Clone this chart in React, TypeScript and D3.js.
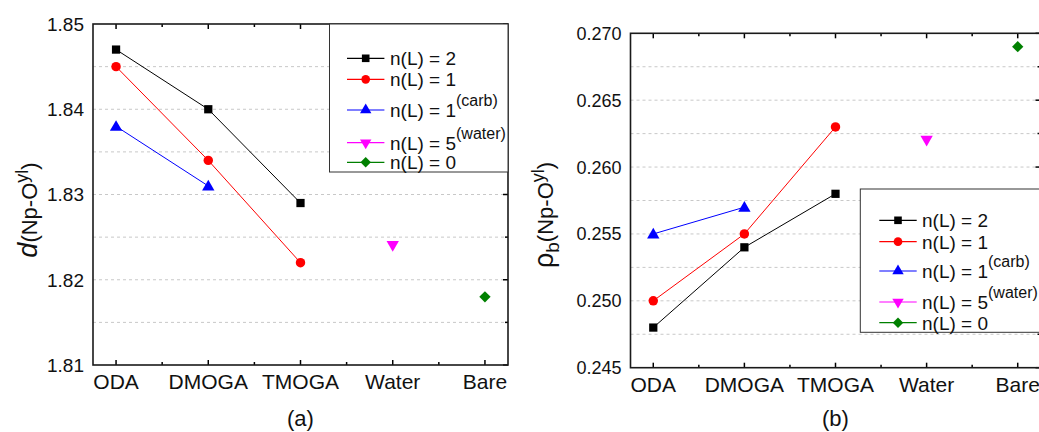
import React, { useRef, useEffect } from 'react';
import { select, scalePoint, scaleLinear, range, symbol, symbolSquare, symbolCircle, symbolTriangle } from 'd3';

const width = 1039;
const height = 432;

const categories = ['ODA', 'DMOGA', 'TMOGA', 'Water', 'Bare'];

// panel (a): d(Np-Oyl)
const distN2 = [1.847, 1.840, 1.829];
const distN1 = [1.845, 1.834, 1.822];
const distCarb = [1.838, 1.831];
const distWater = [1.824];
const distBare = [1.818];
const distTicks = [1.81, 1.82, 1.83, 1.84, 1.85];

// panel (b): rho_b(Np-Oyl)
const rhoN2 = [0.248, 0.254, 0.258];
const rhoN1 = [0.250, 0.255, 0.263];
const rhoCarb = [0.255, 0.257];
const rhoWater = [0.262];
const rhoBare = [0.269];
const rhoTicks = [0.245, 0.250, 0.255, 0.260, 0.265, 0.270];

const seriesStyle = [
    { label: 'n(L) = 2', sup: '', color: '#000000', shape: symbolSquare, size: 68, rotate: 0, start: 'ODA' },
    { label: 'n(L) = 1', sup: '', color: '#ff0000', shape: symbolCircle, size: 70, rotate: 0, start: 'ODA' },
    { label: 'n(L) = 1', sup: '(carb)', color: '#0000ff', shape: symbolTriangle, size: 66, rotate: 0, start: 'ODA' },
    { label: 'n(L) = 5', sup: '(water)', color: '#ff00ff', shape: symbolTriangle, size: 66, rotate: 180, start: 'Water' },
    { label: 'n(L) = 0', sup: '', color: '#008000', shape: symbolSquare, size: 64, rotate: 45, start: 'Bare' },
];

const panels = [
    {
        id: 'a', series: [distN2, distN1, distCarb, distWater, distBare], ticks: distTicks,
        domain: [1.81, 1.85], grid: 0.005, left: 93, right: 508, top: 24, bottom: 365,
        fmt: (v: number) => v.toFixed(2), tickFont: 19,
        legend: { x: 329.5, y: 24, w: 178.5, h: 148, rows: [58.3, 79.3, 110, 142.7, 162.3], lx: 347, mx: 365.7, tx: 390 },
        titleX: 37, titleY: 210, main: 'd', sub: '',
    },
    {
        id: 'b', series: [rhoN2, rhoN1, rhoCarb, rhoWater, rhoBare], ticks: rhoTicks,
        domain: [0.245, 0.270], grid: 0.0025, left: 630.5, right: 1040.5, top: 33.3, bottom: 367.7,
        fmt: (v: number) => v.toFixed(3), tickFont: 18,
        legend: { x: 860.3, y: 189, w: 180, h: 143.3, rows: [220.3, 241.7, 271, 302, 322.7], lx: 879.3, mx: 898, tx: 922 },
        titleX: 553, titleY: 215, main: 'ρ', sub: 'b',
    },
];

const font = 'Arial, "Liberation Sans", sans-serif';

const App = () => {
    const d3svg = useRef(null);

    useEffect(() => {
        const svg = select(d3svg.current);
        svg.selectAll('*').remove();

        panels.forEach(p => {
            const g = svg.append('g').attr('id', `panel-${p.id}`);
            const x = scalePoint().domain(categories).range([p.left, p.right]).padding(0.25);
            const y = scaleLinear().domain(p.domain).range([p.bottom, p.top]);
            const step = x.step();

            // dashed grid
            const gridVals = range(p.domain[0] + p.grid, p.domain[1] - p.grid / 2, p.grid);
            g.selectAll('.grid').data(gridVals).join('line')
                .attr('x1', p.left).attr('x2', p.right)
                .attr('y1', d => y(d)).attr('y2', d => y(d))
                .attr('stroke', '#c8c8c8').attr('stroke-width', 1).attr('stroke-dasharray', '3,3');

            // y ticks on right side (inward), major + minor
            const minorY = range(p.domain[0], p.domain[1] + 1e-9, p.grid);
            const isMajor = (v: number) => p.ticks.some(t => Math.abs(t - v) < 1e-9);
            g.selectAll('.ytick').data(minorY).join('line')
                .attr('x1', p.right).attr('x2', d => p.right - (isMajor(d) ? 5 : 3))
                .attr('y1', d => y(d)).attr('y2', d => y(d))
                .attr('stroke', '#000').attr('stroke-width', 1.5);

            // x ticks bottom & top (inward)
            const xMajor = categories.map(c => x(c) as number);
            const xMinor = xMajor.slice(0, -1).map(v => v + step / 2);
            [p.bottom, p.top].forEach((yy, k) => {
                const dir = k === 0 ? -1 : 1;
                g.selectAll(null).data(xMajor).join('line')
                    .attr('x1', d => d).attr('x2', d => d)
                    .attr('y1', yy).attr('y2', yy + dir * 5)
                    .attr('stroke', '#000').attr('stroke-width', 1.5);
                g.selectAll(null).data(xMinor).join('line')
                    .attr('x1', d => d).attr('x2', d => d)
                    .attr('y1', yy).attr('y2', yy + dir * 3)
                    .attr('stroke', '#000').attr('stroke-width', 1.5);
            });

            // frame
            g.append('rect')
                .attr('x', p.left).attr('y', p.top)
                .attr('width', p.right - p.left).attr('height', p.bottom - p.top)
                .attr('fill', 'none').attr('stroke', '#1a1a1a').attr('stroke-width', 1.6);

            // tick labels
            g.selectAll('.ylab').data(p.ticks).join('text')
                .attr('x', p.left - 9).attr('y', d => y(d)).attr('dy', '0.36em')
                .attr('text-anchor', 'end').attr('font-family', font).attr('font-size', p.tickFont)
                .attr('fill', '#111')
                .text(d => p.fmt(d));
            g.selectAll('.xlab').data(categories).join('text')
                .attr('x', d => x(d) as number).attr('y', p.bottom + 24)
                .attr('text-anchor', 'middle').attr('font-family', font).attr('font-size', 21)
                .attr('fill', '#111')
                .text(d => d);

            // series
            p.series.forEach((vals, si) => {
                const s = seriesStyle[si];
                const startIdx = categories.indexOf(s.start);
                const pts = vals.map((v, i) => [x(categories[startIdx + i]) as number, y(v)]);
                if (pts.length > 1) {
                    g.append('path')
                        .attr('d', 'M' + pts.map(q => q.join(',')).join('L'))
                        .attr('fill', 'none').attr('stroke', s.color).attr('stroke-width', 1);
                }
                g.selectAll(null).data(pts).join('path')
                    .attr('d', symbol().type(s.shape).size(s.size)())
                    .attr('transform', d => `translate(${d[0]},${d[1] + (s.shape === symbolTriangle ? (s.rotate ? -1 : 1) : 0)}) rotate(${s.rotate})`)
                    .attr('fill', s.color);
            });

            // legend
            const L = p.legend;
            g.append('rect')
                .attr('x', L.x).attr('y', L.y).attr('width', L.w).attr('height', L.h)
                .attr('fill', '#fff').attr('stroke', '#333').attr('stroke-width', 1);
            const rows = g.selectAll('.leg').data(seriesStyle).join('g')
                .attr('transform', (d, i) => `translate(0, ${L.rows[i]})`);
            rows.append('line')
                .attr('x1', L.lx).attr('x2', L.lx + 2 * (L.mx - L.lx))
                .attr('stroke', d => d.color).attr('stroke-width', 1.2);
            rows.append('path')
                .attr('d', d => symbol().type(d.shape).size(d.size * 0.85)())
                .attr('transform', d => `translate(${L.mx}, 0) rotate(${d.rotate})`)
                .attr('fill', d => d.color);
            const lt = rows.append('text')
                .attr('x', L.tx).attr('y', 7)
                .attr('font-family', font).attr('font-size', 19).attr('fill', '#111');
            lt.append('tspan').text(d => d.label);
            lt.append('tspan').attr('dy', -11).attr('font-size', 16).text(d => d.sup);

            // axis title
            const t = g.append('text')
                .attr('transform', `translate(${p.titleX}, ${p.titleY}) rotate(-90)`)
                .attr('text-anchor', 'middle').attr('font-family', font).attr('fill', '#111');
            t.append('tspan').attr('font-size', 27).attr('font-style', p.sub ? 'normal' : 'italic').text(p.main);
            if (p.sub) t.append('tspan').attr('font-size', 19).attr('dy', 6).text(p.sub);
            t.append('tspan').attr('font-size', 22).attr('dy', p.sub ? -6 : 0).text('(Np-O');
            t.append('tspan').attr('font-size', 18).attr('dy', -9).text('yl');
            t.append('tspan').attr('font-size', 22).attr('dy', 9).text(')');

            // panel label
            g.append('text')
                .attr('x', (p.left + p.right) / 2).attr('y', 426)
                .attr('text-anchor', 'middle').attr('font-family', font).attr('font-size', 22)
                .attr('fill', '#111')
                .text(`(${p.id})`);
        });
    }, []);

    return (
        <svg
            width={width}
            height={height}
            ref={d3svg}
            style={{ position: 'absolute', left: 0, top: 0, background: '#fff' }}
        ></svg>
    );
};

export default App;
